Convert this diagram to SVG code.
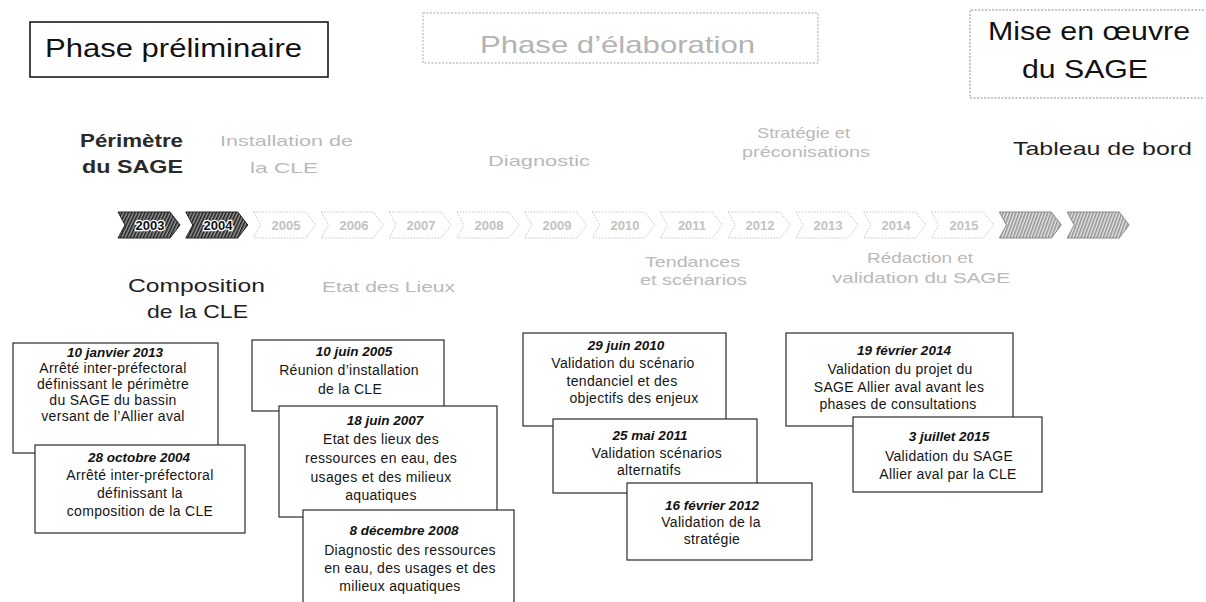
<svg xmlns="http://www.w3.org/2000/svg" xmlns:xlink="http://www.w3.org/1999/xlink" width="1206" height="602" viewBox="0 0 1206 602">
<style>
text{font-family:"Liberation Sans",Arial,sans-serif}
.box{fill:#fff;stroke:#2b2b2b;stroke-width:1.2}
.d{font-size:13.5px;font-weight:bold;font-style:italic;fill:#111;text-anchor:middle}
.t{font-size:14px;fill:#151515;text-anchor:middle;letter-spacing:0.3px}
.big{font-size:25px;fill:#111}
.faintbig{font-size:24px;fill:#b3b3b3}
.lbl{font-size:19px;fill:#1e1e1e}
.lblb{font-size:18px;font-weight:bold;fill:#2a2a2a}
.fl{font-size:15px;fill:#b9b9b9}
.yr{font-size:13px;font-weight:bold;text-anchor:middle}
.aDark{fill:url(#hatchDark);stroke:#222;stroke-width:1}
.aFaint{fill:#fff;stroke:#c6c6c6;stroke-width:1;stroke-dasharray:1.5 1.5}
.aMid{fill:url(#hatchMid);stroke:#8a8a8a;stroke-width:1}
</style>
<defs>
<path id="arr" d="M0,0 L52,0 L62,13 L52,26 L0,26 L7,13 Z"/>
<pattern id="hatchDark" width="3" height="3" patternUnits="userSpaceOnUse" patternTransform="rotate(25)">
<rect width="3" height="3" fill="#9a9a9a"/><line x1="0.8" y1="0" x2="0.8" y2="3" stroke="#1a1a1a" stroke-width="1.5"/>
</pattern>
<pattern id="hatchMid" width="3" height="3" patternUnits="userSpaceOnUse" patternTransform="rotate(20)">
<rect width="3" height="3" fill="#e6e6e6"/><line x1="0.8" y1="0" x2="0.8" y2="3" stroke="#7a7a7a" stroke-width="1.2"/>
</pattern>
</defs>
<rect width="1206" height="602" fill="#fff"/>

<g id="phase-preliminaire">
<rect x="30" y="22" width="298" height="55" fill="#fff" stroke="#1a1a1a" stroke-width="1.6"/>
<text class="big" x="45" y="57" textLength="257" lengthAdjust="spacingAndGlyphs">Phase préliminaire</text>
</g>
<g id="phase-elaboration">
<rect x="423" y="13" width="395" height="50" fill="#fff" stroke="#a8a8a8" stroke-width="1" stroke-dasharray="2 1.5"/>
<text class="faintbig" x="480" y="53" textLength="275" lengthAdjust="spacingAndGlyphs">Phase d’élaboration</text>
</g>
<g id="mise-en-oeuvre">
<path d="M1204,10 H970 V98 H1204" fill="none" stroke="#8c8c8c" stroke-width="1" stroke-dasharray="2 1.5"/>
<text class="big" x="988" y="40" fill="#1a1a1a" textLength="202" lengthAdjust="spacingAndGlyphs">Mise en œuvre</text>
<text class="big" x="1022" y="78" fill="#1a1a1a" textLength="126" lengthAdjust="spacingAndGlyphs">du SAGE</text>
</g>

<g id="label-perimetre">
<text class="lblb" x="80" y="147" textLength="103" lengthAdjust="spacingAndGlyphs">Périmètre</text>
<text class="lblb" x="82" y="173" textLength="101" lengthAdjust="spacingAndGlyphs">du SAGE</text>
</g>
<g id="label-installation">
<text class="fl" x="220" y="146" textLength="133" lengthAdjust="spacingAndGlyphs">Installation de</text>
<text class="fl" x="250" y="173" textLength="68" lengthAdjust="spacingAndGlyphs">la CLE</text>
</g>
<g id="label-diagnostic">
<text class="fl" x="488" y="166" textLength="102" lengthAdjust="spacingAndGlyphs">Diagnostic</text>
</g>
<g id="label-strategie">
<text class="fl" x="757" y="138" textLength="93" lengthAdjust="spacingAndGlyphs">Stratégie et</text>
<text class="fl" x="742" y="157" textLength="128" lengthAdjust="spacingAndGlyphs">préconisations</text>
</g>
<g id="label-tableau">
<text class="lbl" x="1013" y="155" fill="#333" textLength="179" lengthAdjust="spacingAndGlyphs">Tableau de bord</text>
</g>

<g id="timeline">
<use xlink:href="#arr" href="#arr" x="118" y="212" class="aDark"/>
<use xlink:href="#arr" href="#arr" x="185.8" y="212" class="aDark"/>
<use xlink:href="#arr" href="#arr" x="253.6" y="212" class="aFaint"/>
<use xlink:href="#arr" href="#arr" x="321.4" y="212" class="aFaint"/>
<use xlink:href="#arr" href="#arr" x="389.2" y="212" class="aFaint"/>
<use xlink:href="#arr" href="#arr" x="457" y="212" class="aFaint"/>
<use xlink:href="#arr" href="#arr" x="524.8" y="212" class="aFaint"/>
<use xlink:href="#arr" href="#arr" x="592.6" y="212" class="aFaint"/>
<use xlink:href="#arr" href="#arr" x="660.4" y="212" class="aFaint"/>
<use xlink:href="#arr" href="#arr" x="728.2" y="212" class="aFaint"/>
<use xlink:href="#arr" href="#arr" x="796" y="212" class="aFaint"/>
<use xlink:href="#arr" href="#arr" x="863.8" y="212" class="aFaint"/>
<use xlink:href="#arr" href="#arr" x="931.6" y="212" class="aFaint"/>
<use xlink:href="#arr" href="#arr" x="999.4" y="212" class="aMid"/>
<use xlink:href="#arr" href="#arr" x="1067.2" y="212" class="aMid"/>
<g class="yr">
<text x="150" y="230" fill="#111" stroke="#fff" stroke-width="2.5" paint-order="stroke">2003</text>
<text x="218" y="230" fill="#111" stroke="#fff" stroke-width="2.5" paint-order="stroke">2004</text>
<g fill="#c2c2c2">
<text x="286" y="230">2005</text>
<text x="354" y="230">2006</text>
<text x="421" y="230">2007</text>
<text x="489" y="230">2008</text>
<text x="557" y="230">2009</text>
<text x="625" y="230">2010</text>
<text x="692" y="230">2011</text>
<text x="760" y="230">2012</text>
<text x="828" y="230">2013</text>
<text x="896" y="230">2014</text>
<text x="964" y="230">2015</text>
</g>
</g>
</g>

<g id="label-composition">
<text class="lbl" x="128" y="292" textLength="137" lengthAdjust="spacingAndGlyphs">Composition</text>
<text class="lbl" x="147" y="318" textLength="101" lengthAdjust="spacingAndGlyphs">de la CLE</text>
</g>
<g id="label-etat">
<text class="fl" x="322" y="292" textLength="133" lengthAdjust="spacingAndGlyphs">Etat des Lieux</text>
</g>
<g id="label-tendances">
<text class="fl" x="645" y="267" textLength="95" lengthAdjust="spacingAndGlyphs">Tendances</text>
<text class="fl" x="640" y="285" textLength="107" lengthAdjust="spacingAndGlyphs">et scénarios</text>
</g>
<g id="label-redaction">
<text class="fl" x="867" y="263" textLength="106" lengthAdjust="spacingAndGlyphs">Rédaction et</text>
<text class="fl" x="832" y="283" textLength="178" lengthAdjust="spacingAndGlyphs">validation du SAGE</text>
</g>

<g id="event-2013-01">
<rect class="box" x="13" y="343" width="205" height="110"/>
<text class="d" x="115" y="357">10 janvier 2013</text>
<text class="t" x="113" y="373">Arrêté inter-préfectoral</text>
<text class="t" x="113" y="389">définissant le périmètre</text>
<text class="t" x="113" y="405">du SAGE du bassin</text>
<text class="t" x="113" y="421">versant de l’Allier aval</text>
</g>
<g id="event-2004-10">
<rect class="box" x="35" y="445" width="210" height="88"/>
<text class="d" x="139" y="462">28 octobre 2004</text>
<text class="t" x="140" y="480">Arrêté inter-préfectoral</text>
<text class="t" x="140" y="498">définissant la</text>
<text class="t" x="140" y="516">composition de la CLE</text>
</g>

<g id="event-2005-06">
<rect class="box" x="252" y="340" width="192" height="71"/>
<text class="d" x="354" y="356">10 juin 2005</text>
<text class="t" x="349" y="375">Réunion d’installation</text>
<text class="t" x="350" y="394">de la CLE</text>
</g>
<g id="event-2007-06">
<rect class="box" x="279" y="406" width="218" height="111"/>
<text class="d" x="385" y="425">18 juin 2007</text>
<text class="t" x="381" y="444">Etat des lieux des</text>
<text class="t" x="381" y="463">ressources en eau, des</text>
<text class="t" x="381" y="482">usages et des milieux</text>
<text class="t" x="381" y="500">aquatiques</text>
</g>
<g id="event-2008-12">
<rect class="box" x="303" y="510" width="211" height="98"/>
<text class="d" x="404" y="535">8 décembre 2008</text>
<text class="t" x="410" y="555">Diagnostic des ressources</text>
<text class="t" x="410" y="573">en eau, des usages et des</text>
<text class="t" x="400" y="591">milieux aquatiques</text>
</g>

<g id="event-2010-06">
<rect class="box" x="523" y="333" width="203" height="93"/>
<text class="d" x="626" y="350">29 juin 2010</text>
<text class="t" x="623" y="368">Validation du scénario</text>
<text class="t" x="622" y="386">tendanciel et des</text>
<text class="t" x="634" y="403">objectifs des enjeux</text>
</g>
<g id="event-2011-05">
<rect class="box" x="553" y="419" width="204" height="74"/>
<text class="d" x="650" y="440">25 mai 2011</text>
<text class="t" x="657" y="458">Validation scénarios</text>
<text class="t" x="649" y="475">alternatifs</text>
</g>
<g id="event-2012-02">
<rect class="box" x="627" y="483" width="185" height="77"/>
<text class="d" x="712" y="510">16 février 2012</text>
<text class="t" x="711" y="527">Validation de la</text>
<text class="t" x="712" y="544">stratégie</text>
</g>

<g id="event-2014-02">
<rect class="box" x="786" y="333" width="227" height="93"/>
<text class="d" x="904" y="355">19 février 2014</text>
<text class="t" x="900" y="374">Validation du projet du</text>
<text class="t" x="899" y="392">SAGE Allier aval avant les</text>
<text class="t" x="898" y="409">phases de consultations</text>
</g>
<g id="event-2015-07">
<rect class="box" x="853" y="417" width="189" height="75"/>
<text class="d" x="949" y="441">3 juillet 2015</text>
<text class="t" x="949" y="461">Validation du SAGE</text>
<text class="t" x="948" y="479">Allier aval par la CLE</text>
</g>
</svg>
